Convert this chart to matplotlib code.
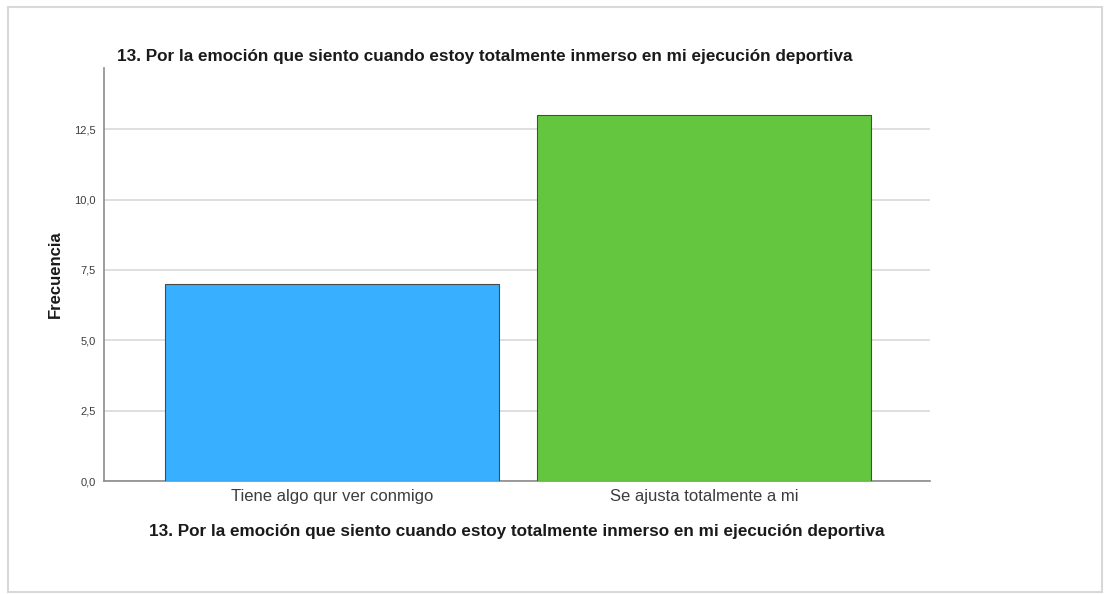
import matplotlib
matplotlib.use("Agg")
import matplotlib.pyplot as plt
from matplotlib.patches import Rectangle

categories = ["Tiene algo qur ver conmigo", "Se ajusta totalmente a mi"]
values = [7, 13]
colors = ["#38B0FF", "#64C63F"]
yticks = [0.0, 2.5, 5.0, 7.5, 10.0, 12.5]
title = "13. Por la emoción que siento cuando estoy totalmente inmerso en mi ejecución deportiva"

plt.rcParams['font.family'] = ['Liberation Sans', 'DejaVu Sans']

fig = plt.figure(figsize=(11.11, 5.94), dpi=100)
fig.patch.set_facecolor("white")

# frame / shadow of the screenshot
fig.add_artist(Rectangle((0.007, 0.004), 0.985, 0.984, transform=fig.transFigure,
                         fill=False, edgecolor="#d8d8d8", linewidth=1.5))

ax = fig.add_axes([0.0936, 0.190, 0.7434, 0.6955])
x = list(range(len(categories)))
ax.bar(x, values, width=0.898, color=colors, edgecolor="#4a4a4a", linewidth=0.8, zorder=3)

ax.set_xlim(-0.613, 1.608)
ax.set_ylim(0, 14.67)
ax.set_yticks(yticks)
ax.set_yticklabels([f"{t:.1f}".replace(".", ",") for t in yticks], fontsize=8, color="#3c3c3c")
ax.set_xticks(x)
ax.set_xticklabels(categories, fontsize=12, color="#3c3c3c")
ax.tick_params(axis="y", length=0, pad=6)
ax.tick_params(axis="x", length=0, pad=6)

ax.yaxis.grid(True, color="#d9d9d9", linewidth=1.2, zorder=0)
ax.set_axisbelow(True)
for s in ["top", "right"]:
    ax.spines[s].set_visible(False)
for s in ["left", "bottom"]:
    ax.spines[s].set_color("#8c8c8c")
    ax.spines[s].set_linewidth(1.2)

ax.set_ylabel("Frecuencia", fontsize=12, fontweight="bold", color="#1a1a1a", labelpad=8)
ax.set_xlabel(title, fontsize=12.3, fontweight="bold", color="#1a1a1a", labelpad=14)
fig.text(0.1053, 1 - 57 / 594, title, fontsize=12.3, fontweight="bold", color="#1a1a1a",
         ha="left", va="center")

fig.savefig("out.png", dpi=100)
